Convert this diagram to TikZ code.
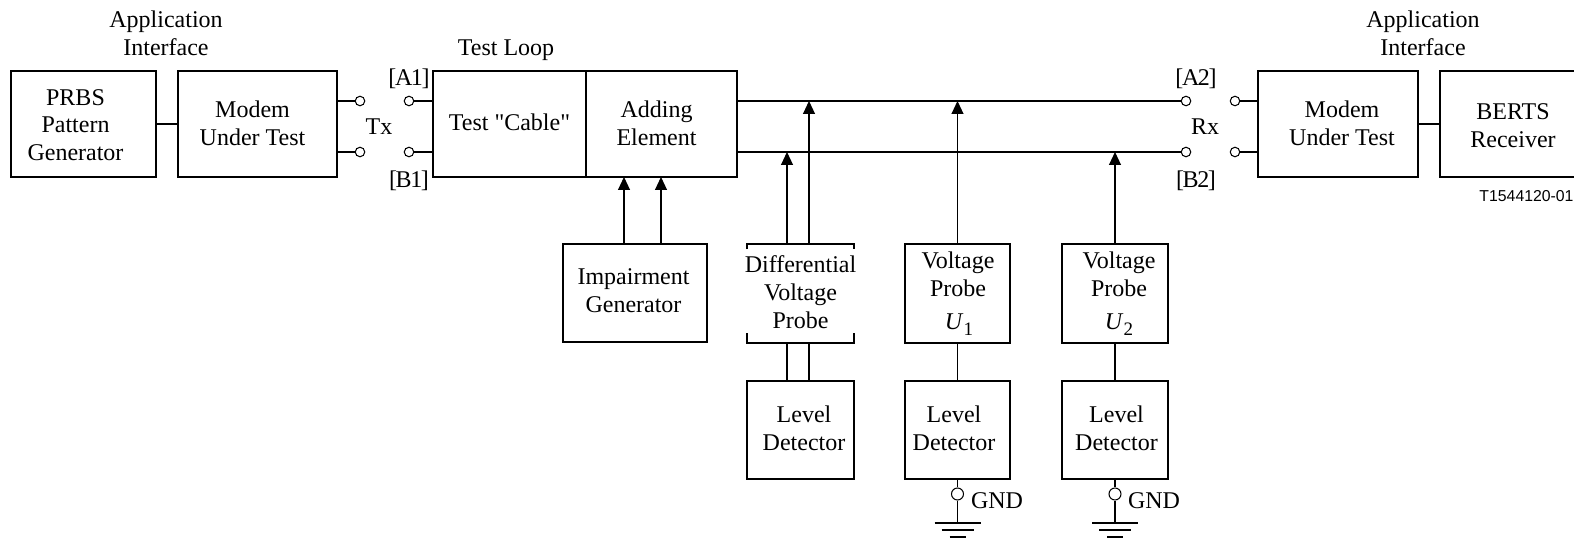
\documentclass[tikz,border=0pt]{standalone}
\usepackage{fontspec}
\setmainfont{Liberation Serif}
\newfontfamily\plainfont{Liberation Serif}
\newfontfamily\tagfont{Liberation Sans}
\usetikzlibrary{arrows.meta}
\tikzset{
  box/.style={draw,rectangle,inner sep=0pt,outer sep=0pt},
  txt/.style={inner sep=0pt,align=center,font=\fontsize{24}{27.7}\selectfont},
  term/.style={draw,circle,fill=white,inner sep=0pt,minimum size=9.5pt},
  probeline/.style={-{Triangle[length=13pt,width=12pt]}}
}
\newcommand{\subU}[1]{\textit{U}\raisebox{-6pt}{\fontsize{19}{19}\selectfont #1}}
\newcommand{\tight}[2]{[\kern-1.4pt #1\kern-1.4pt #2\kern-1.4pt]}
\begin{document}
\begin{tikzpicture}[x=1pt,y=-1pt,line width=1.05pt]
\useasboundingbox (0,0) rectangle (1574,540);
\clip (0,0) rectangle (1574,540);

% top row
\node[box,minimum width=145pt,minimum height=106pt] (prbs) at (83.5,124) {};
\node[box,minimum width=159pt,minimum height=106pt] (mutA) at (257.5,124) {};
\node[box,minimum width=153pt,minimum height=106pt] (cable) at (509.5,124) {};
\node[box,minimum width=151pt,minimum height=106pt] (adding) at (661.5,124) {};
\node[box,minimum width=160pt,minimum height=106pt] (mutB) at (1338,124) {};
\node[box,minimum width=160pt,minimum height=106pt] (berts) at (1520,124) {};

% probes
\node[box,minimum width=144pt,minimum height=98pt] (igen) at (635,293) {};
\node[inner sep=0pt,outer sep=0pt,minimum width=107pt,minimum height=99pt] (dvp) at (800.5,293.5) {};
\node[box,minimum width=105pt,minimum height=99pt] (vpA) at (957.5,293.5) {};
\node[box,minimum width=106pt,minimum height=99pt] (vpB) at (1115,293.5) {};
\node[box,minimum width=107pt,minimum height=98pt] (ldD) at (800.5,430) {};
\node[box,minimum width=105pt,minimum height=98pt] (ldA) at (957.5,430) {};
\node[box,minimum width=106pt,minimum height=98pt] (ldB) at (1115,430) {};
\draw ([yshift=-5pt]dvp.north west)--(dvp.north west)--(dvp.north east)--([yshift=-5pt]dvp.north east);
\draw ([yshift=10pt]dvp.south west)--(dvp.south west)--(dvp.south east)--([yshift=10pt]dvp.south east);

% terminals
\node[term] (txA) at (360,101) {};
\node[term] (txB) at (360,152) {};
\node[term] (a1) at (409,101) {};
\node[term] (b1) at (409,152) {};
\node[term] (a2) at (1186,101) {};
\node[term] (b2) at (1186,152) {};
\node[term] (rxA) at (1235,101) {};
\node[term] (rxB) at (1235,152) {};
\node[term,minimum size=12pt] (gndA) at (957.5,494) {};
\node[term,minimum size=12pt] (gndB) at (1115,494) {};
\coordinate (earthA) at (957.5,523);
\coordinate (earthB) at (1115,523);
\coordinate (tapA) at (809,101);
\coordinate (tapB) at (787,152);
\coordinate (tapC) at (957.5,101);
\coordinate (tapD) at (1115,152);

% connectors
\draw (prbs)--(mutA);
\draw (mutB.east)--(berts.west);
\draw (mutA.east |- txA)--(txA);
\draw (mutA.east |- txB)--(txB);
\draw (a1)--(cable.west |- a1);
\draw (b1)--(cable.west |- b1);
\draw (adding.east |- a2)--(a2);
\draw (adding.east |- b2)--(b2);
\draw (rxA)--(mutB.west |- rxA);
\draw (rxB)--(mutB.west |- rxB);
\draw[probeline] ([xshift=-11pt]igen.north)--([xshift=-11pt]igen.north |- adding.south);
\draw[probeline] ([xshift=26pt]igen.north)--([xshift=26pt]igen.north |- adding.south);
\draw[probeline] (tapA |- dvp.north)--(tapA);
\draw[probeline] (tapB |- dvp.north)--(tapB);
\draw[probeline] (vpA.north)--(tapC);
\draw[probeline] (vpB.north)--(tapD);
\draw (tapA |- dvp.south)--(tapA |- ldD.north);
\draw (tapB |- dvp.south)--(tapB |- ldD.north);
\draw (vpA)--(ldA);
\draw (vpB)--(ldB);
\draw (ldA)--(gndA);
\draw (ldB)--(gndB);
\draw (gndA)--(earthA);
\draw (gndB)--(earthB);
\foreach \e in {earthA,earthB}{
  \draw ([xshift=-23pt]\e)--([xshift=23pt]\e);
  \draw ([xshift=-16pt,yshift=-7pt]\e)--([xshift=16pt,yshift=-7pt]\e);
  \draw ([xshift=-8pt,yshift=-14pt]\e)--([xshift=8pt,yshift=-14pt]\e);
}

% labels
\node[txt] (appA) at (166,33.5) {Application\\Interface};
\node[txt] (appB) at (1423,33.5) {Application\\Interface};
\node[txt] (loop) at (506,50) {Test Loop};
\node[txt] (prbsT) at ([xshift=-8pt,yshift=-1pt]prbs.center) {PRBS\\Pattern\\Generator};
\node[txt] (mutAT) at ([xshift=-5pt,yshift=.5pt]mutA.center) {Modem\\Under Test};
\node[txt] (cableT) at ([yshift=2pt]cable.center) {\plainfont Test "Cable"};
\node[txt] (addingT) at ([xshift=-5pt,yshift=.5pt]adding.center) {Adding\\Element};
\node[txt] (mutBT) at ([xshift=4pt,yshift=.5pt]mutB.center) {Modem\\Under Test};
\node[txt] (bertsT) at (1513,126) {BERTS\\Receiver};
\node[txt] (tx) at (379,127) {Tx};
\node[txt] (rx) at (1205,127) {Rx};
\node[txt] (a1T) at (409,79) {\tight{A}{1}};
\node[txt] (b1T) at (409,181) {\tight{B}{1}};
\node[txt] (a2T) at (1196,79) {\tight{A}{2}};
\node[txt] (b2T) at (1196,181) {\tight{B}{2}};
\node[txt] (igenT) at ([xshift=-1.5pt,yshift=2.5pt]igen.center) {Impairment\\Generator};
\node[txt] (dvpT) at ([yshift=1.5pt]dvp.center) {Differential\\Voltage\\Probe};
\node[txt] (vpAT) at (958,274) {Voltage\\Probe};
\node[txt,anchor=base] (uA) at (959,329) {\subU{1}};
\node[txt] (vpBT) at (1119,274) {Voltage\\Probe};
\node[txt,anchor=base] (uB) at (1119,329) {\subU{2}};
\node[txt] (ldDT) at ([xshift=3.5pt,yshift=1.5pt]ldD.center) {Level\\Detector};
\node[txt] (ldAT) at ([xshift=-3.5pt,yshift=1.5pt]ldA.center) {Level\\Detector};
\node[txt] (ldBT) at ([xshift=1.5pt,yshift=1.5pt]ldB.center) {Level\\Detector};
\node[txt] (gndAT) at (997,501) {GND};
\node[txt] (gndBT) at (1154,501) {GND};
\node[inner sep=0pt,font=\tagfont\fontsize{15.8}{18}\selectfont,anchor=east] (tag) at (1574,196) {T1544120-01};
\end{tikzpicture}
\end{document}
